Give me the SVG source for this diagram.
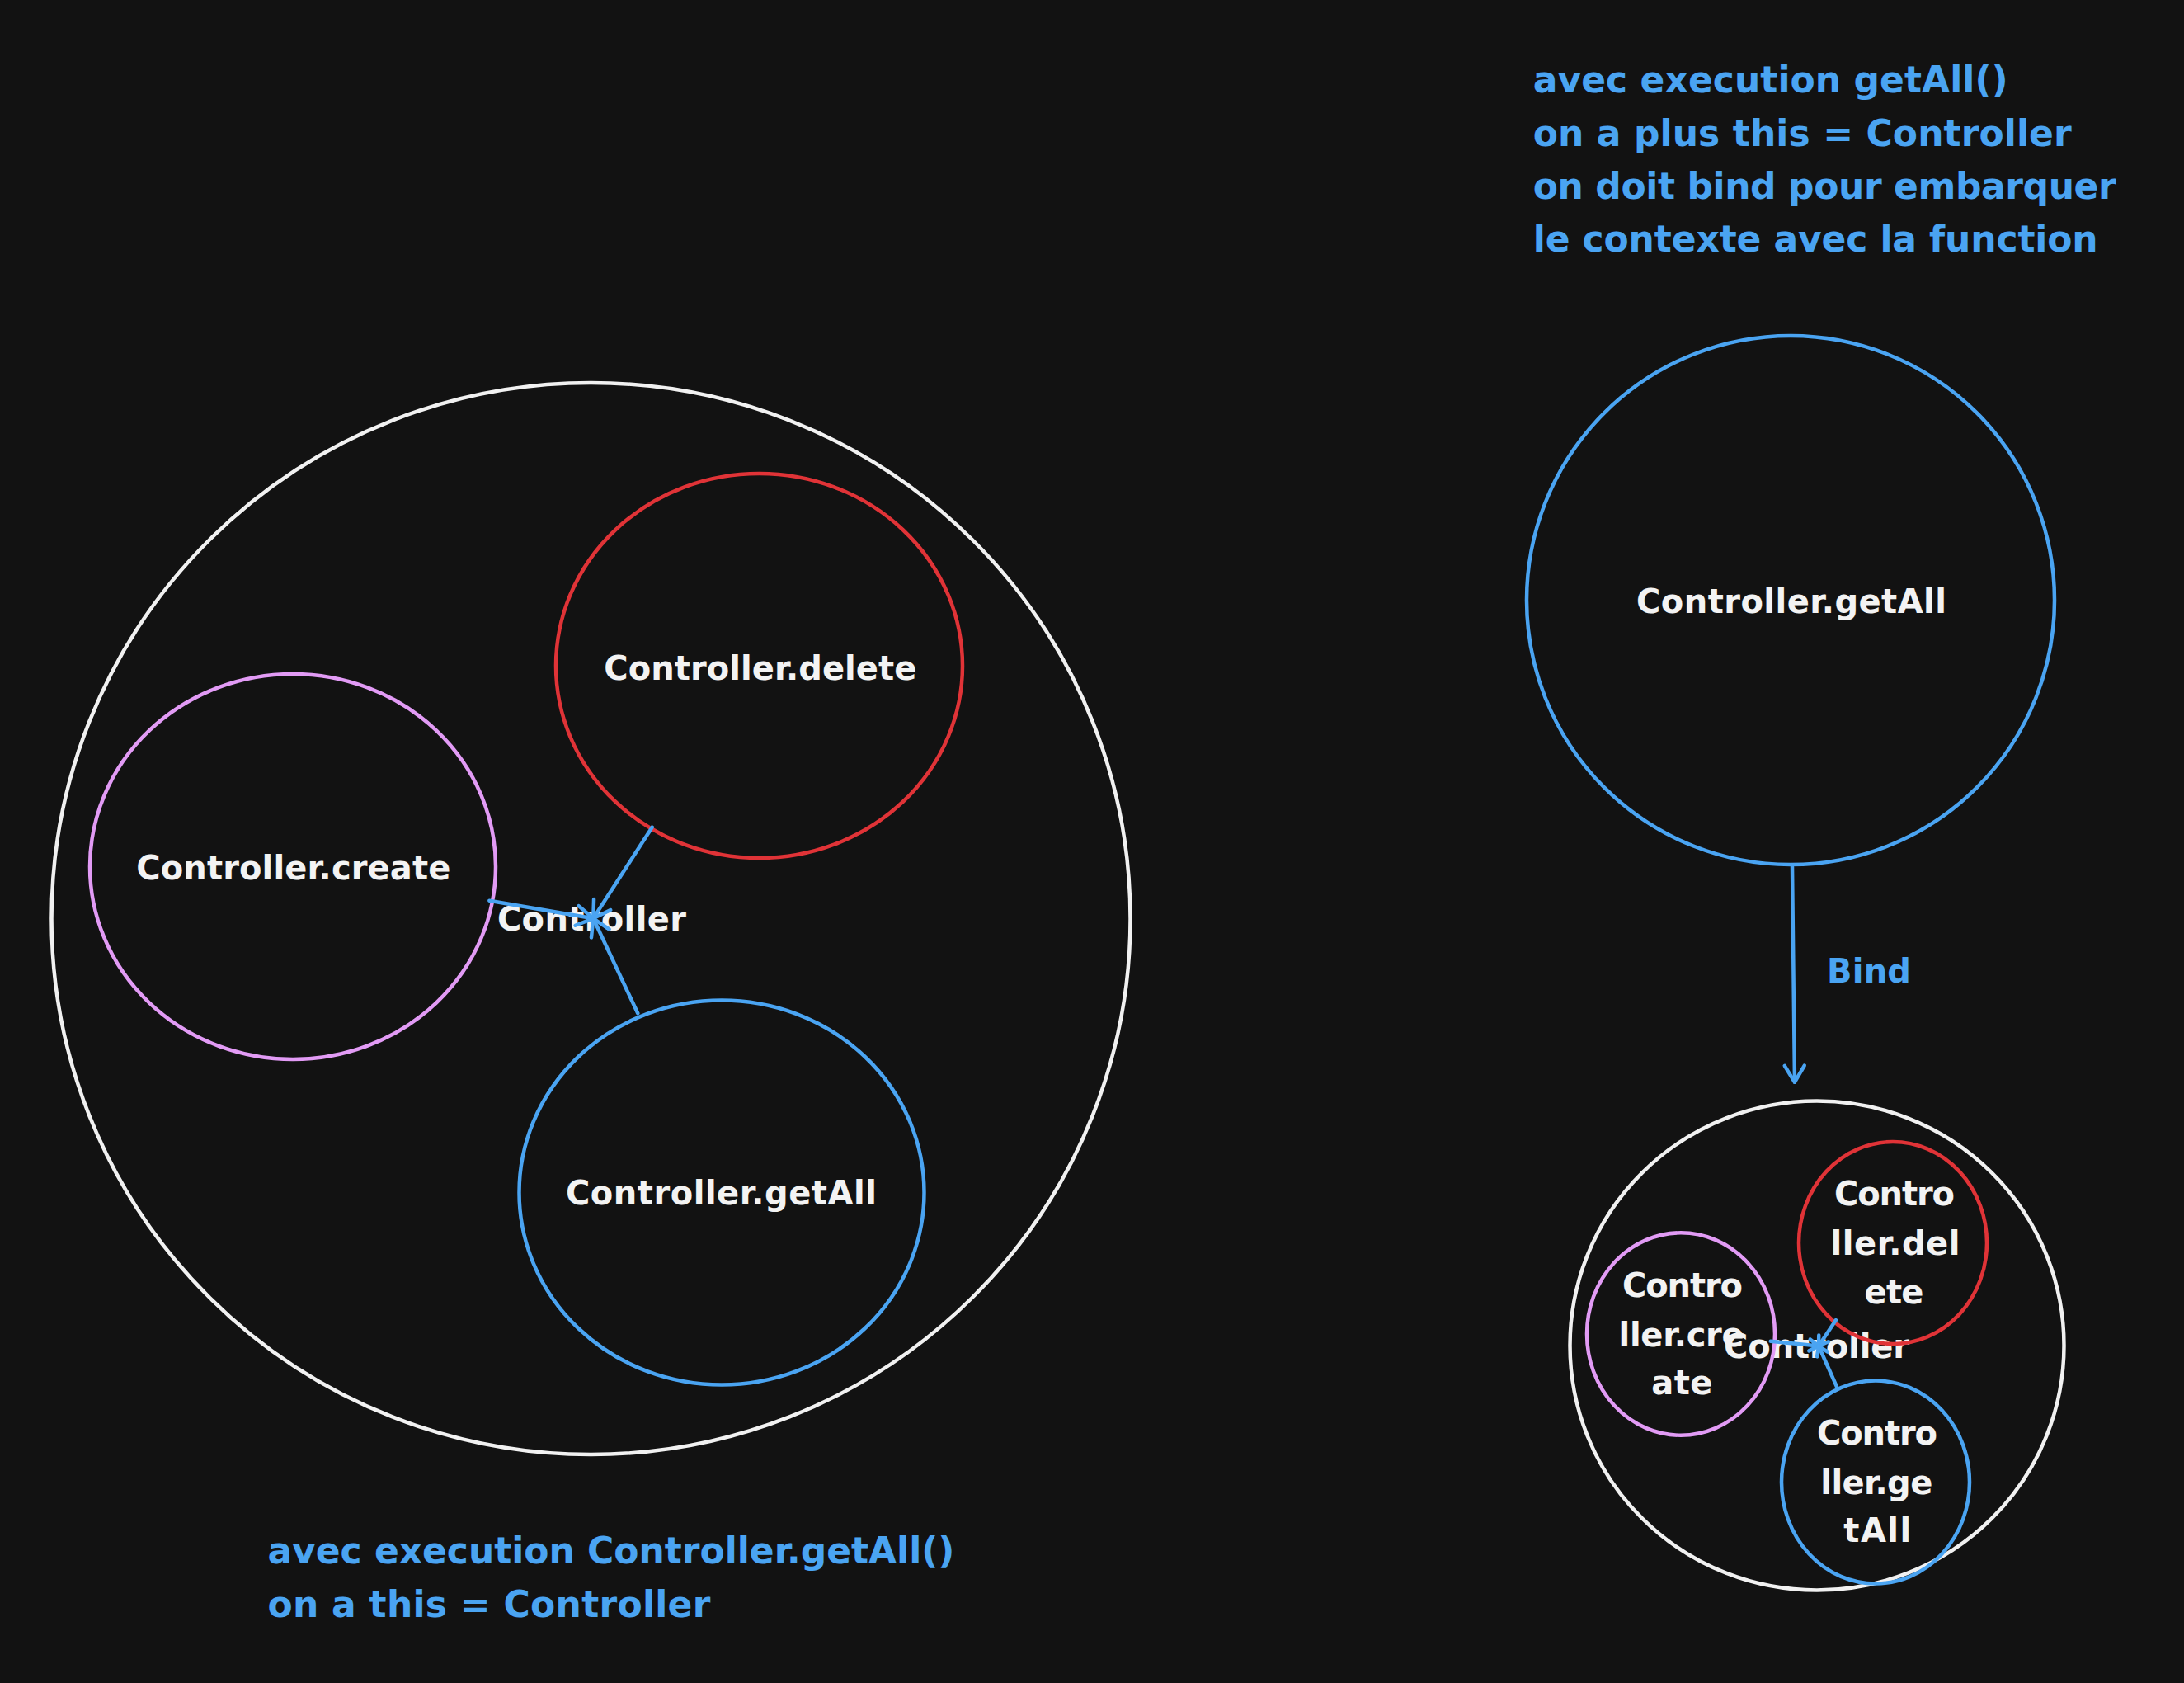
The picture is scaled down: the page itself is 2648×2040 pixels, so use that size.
<svg xmlns="http://www.w3.org/2000/svg" width="2648" height="2040" viewBox="0 0 2648 2040">
  <defs>
    <style>
      .bg { fill: #121212; }
      .shape { fill: none; stroke-width: 4.5; }
      .white { stroke: #f1f1f1; }
      .red { stroke: #e03337; }
      .violet { stroke: #e29bf5; }
      .blue { stroke: #4aa4f2; }
      .label { font-family: "DejaVu Sans", "Liberation Sans", sans-serif; font-weight: bold; fill: #f3f3f3; font-size: 40px; }
      .note { font-family: "DejaVu Sans", "Liberation Sans", sans-serif; font-weight: bold; fill: #4aa4f2; font-size: 44px; }
      .mid { text-anchor: middle; }
      .conn { fill: none; stroke: #4aa4f2; stroke-width: 4.5; stroke-linecap: round; }
    </style>
    <marker id="head" markerUnits="userSpaceOnUse" markerWidth="60" markerHeight="60" refX="0" refY="0" viewBox="-30 -30 60 60" orient="auto" overflow="visible">
      <path d="M-20,-12 L0,0 L-20,12" fill="none" stroke="#4aa4f2" stroke-width="4.5" stroke-linecap="round" stroke-linejoin="round"/>
    </marker>
    <marker id="headSmall" markerUnits="userSpaceOnUse" markerWidth="40" markerHeight="40" refX="0" refY="0" viewBox="-20 -20 40 40" orient="auto" overflow="visible">
      <path d="M-11,-7 L0,0 L-11,7" fill="none" stroke="#4aa4f2" stroke-width="4.5" stroke-linecap="round" stroke-linejoin="round"/>
    </marker>
  </defs>

  <rect class="bg" x="0" y="0" width="2648" height="2040"/>

  <!-- Left cluster -->
  <g id="controller-left">
    <ellipse class="shape white" cx="716.5" cy="1113.5" rx="654" ry="649.5"/>
    <text class="label mid" x="717.4" y="1128" textLength="229">Controller</text>
  </g>
  <g id="delete-left">
    <ellipse class="shape red" cx="920.5" cy="807" rx="246.5" ry="233"/>
    <text class="label mid" x="921.8" y="824" textLength="379">Controller.delete</text>
  </g>
  <g id="create-left">
    <ellipse class="shape violet" cx="355" cy="1050.5" rx="246" ry="233.5"/>
    <text class="label mid" x="355.8" y="1066" textLength="381">Controller.create</text>
  </g>
  <g id="getall-left">
    <ellipse class="shape blue" cx="875" cy="1445.5" rx="245.5" ry="233"/>
    <text class="label mid" x="874.4" y="1460" textLength="377">Controller.getAll</text>
  </g>

  <!-- Top right -->
  <g id="getall-top">
    <ellipse class="shape blue" cx="2171" cy="727.5" rx="320" ry="320.5"/>
    <text class="label mid" x="2172" y="743" textLength="376">Controller.getAll</text>
  </g>

  <!-- Small cluster -->
  <g id="controller-small">
    <ellipse class="shape white" cx="2203" cy="1631" rx="299.5" ry="296.5"/>
    <text class="label mid" x="2202.5" y="1646" textLength="225">Controller</text>
  </g>
  <g id="delete-small">
    <ellipse class="shape red" cx="2295" cy="1506.5" rx="114" ry="122.5"/>
    <text class="label mid" x="2297" y="1461" textLength="146">Contro</text>
    <text class="label mid" x="2298" y="1521" textLength="157">ller.del</text>
    <text class="label mid" x="2296.5" y="1580" textLength="72">ete</text>
  </g>
  <g id="create-small">
    <ellipse class="shape violet" cx="2038" cy="1617" rx="114" ry="122.7"/>
    <text class="label mid" x="2040" y="1572" textLength="146">Contro</text>
    <text class="label mid" x="2038.6" y="1632" textLength="152">ller.cre</text>
    <text class="label mid" x="2039.3" y="1690" textLength="74">ate</text>
  </g>
  <g id="getall-small">
    <ellipse class="shape blue" cx="2274" cy="1796.5" rx="114" ry="123"/>
    <text class="label mid" x="2276" y="1751" textLength="146">Contro</text>
    <text class="label mid" x="2275.3" y="1811" textLength="136">ller.ge</text>
    <text class="label mid" x="2276.3" y="1869" textLength="82">tAll</text>
  </g>

  <!-- Notes -->
  <g id="note-top">
    <text class="note" x="1858.7" y="111.7" textLength="576">avec execution getAll()</text>
    <text class="note" x="1858.7" y="176.5" textLength="653">on a plus this = Controller</text>
    <text class="note" x="1858.7" y="240.7" textLength="707">on doit bind pour embarquer</text>
    <text class="note" x="1858.7" y="305" textLength="685">le contexte avec la function</text>
  </g>
  <g id="note-bottom">
    <text class="note" x="324.4" y="1895" textLength="833">avec execution Controller.getAll()</text>
    <text class="note" x="324.4" y="1960" textLength="537">on a this = Controller</text>
  </g>

  <!-- Connectors -->
  <g id="connectors">
    <path class="conn" d="M593.3,1091.7 L719.3,1113.3" marker-end="url(#head)"/>
    <path class="conn" d="M790.7,1002.7 L719.3,1113.3" marker-end="url(#head)"/>
    <path class="conn" d="M773.3,1228.3 L719.3,1113.3" marker-end="url(#head)"/>
    <path class="conn" d="M2173,1050.5 L2176,1311.7" marker-end="url(#head)"/>
    <text class="note" x="2215" y="1191" style="font-size:40px" textLength="102">Bind</text>
    <path class="conn" d="M2146.7,1625.7 L2205,1631.5" marker-end="url(#headSmall)"/>
    <path class="conn" d="M2226,1600 L2205,1631.5" marker-end="url(#headSmall)"/>
    <path class="conn" d="M2227.3,1681.7 L2205,1631.5" marker-end="url(#headSmall)"/>
  </g>
</svg>
